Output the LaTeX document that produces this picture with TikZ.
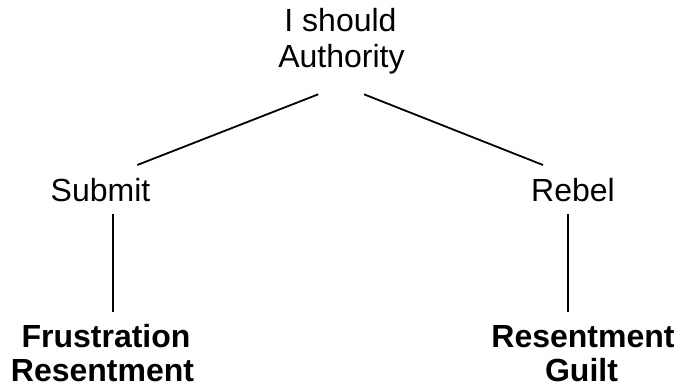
\documentclass[tikz,border=0pt]{standalone}
\usepackage{fontspec}
\setmainfont{Liberation Sans}
\begin{document}
\begin{tikzpicture}[x=1pt,y=-1pt,
  lbl/.style={anchor=base,inner sep=0pt,font=\fontsize{32}{38}\selectfont},
  blbl/.style={lbl,font=\fontsize{32}{38}\selectfont\bfseries},
  conn/.style={line width=1.8pt}]
\useasboundingbox (0,0) rectangle (680,387);
\node[lbl] (should) at (340.5,32) {I should};
\node[lbl] (auth) at (341.5,68) {Authority};
\node[lbl] (submit) at (100.5,202) {Submit};
\node[lbl] (rebel) at (573,202) {Rebel};
\node[blbl] (frus) at (106,348) {Frustration};
\node[blbl] (res1) at (102.5,381.5) {Resentment};
\node[blbl] (res2) at (583,348) {Resentment};
\node[blbl] (guilt) at (581.5,381.5) {Guilt};
\coordinate (al) at (318.3,94.3);
\coordinate (ar) at (364,94.3);
\coordinate (sl) at (137.3,165);
\coordinate (rr) at (543,165);
\coordinate (st) at (112.7,214);
\coordinate (sb) at (112.7,312);
\coordinate (rt) at (568.3,214);
\coordinate (rb) at (568.3,312);
\draw[conn] (al) -- (sl);
\draw[conn] (ar) -- (rr);
\draw[conn] (st) -- (sb);
\draw[conn] (rt) -- (rb);
\end{tikzpicture}
\end{document}
